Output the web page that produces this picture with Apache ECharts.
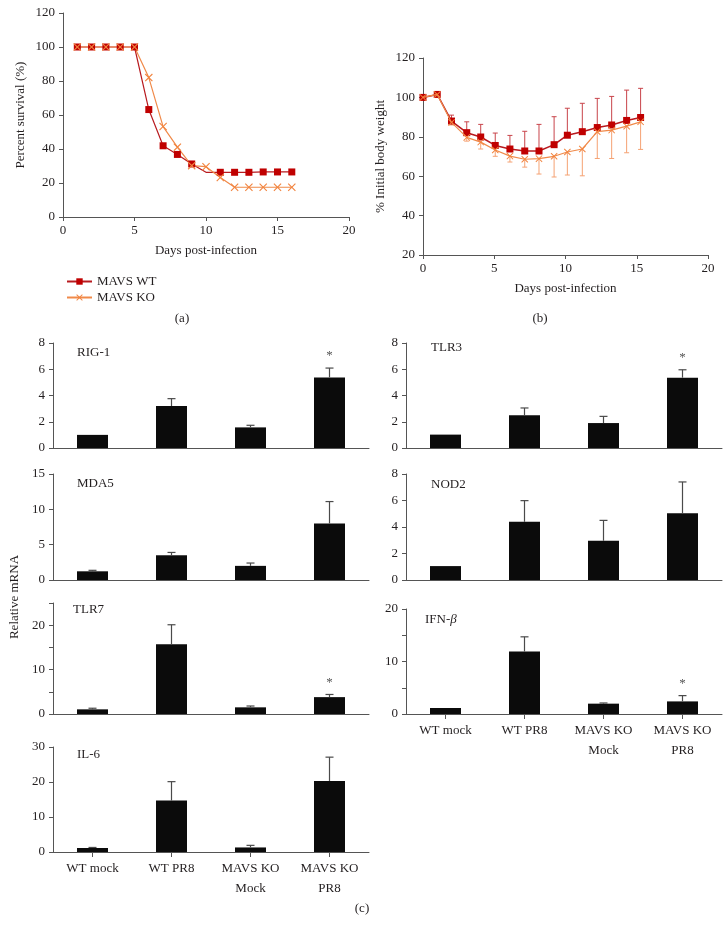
<!DOCTYPE html>
<html>
<head>
<meta charset="utf-8">
<script src="https://cdn.jsdelivr.net/npm/echarts@6/dist/echarts.min.js"></script>
<style>
html,body{margin:0;padding:0;background:#fff;}
#chart{width:727px;height:942px;}
</style>
</head>
<body>
<div id="chart"></div>
<script>
// ---------- DATA ----------
// Panel (a): survival
const survDays = [1,2,3,4,5,6,7,8,9,10,11,12,13,14,15,16];
const wtSurv = [100,100,100,100,100,63.2,41.9,36.8,31.2,26.3,26.3,26.3,26.3,26.5,26.5,26.5];
const koSurv = [100,100,100,100,100,82,53.2,41.1,30.2,29.6,23.2,17.5,17.5,17.5,17.5,17.5];
const wtHiddenMarker = [10]; // day without a visible WT marker

// Panel (b): body weight
const bwDays = [0,1,2,3.07,4.05,5.07,6.1,7.14,8.14,9.2,10.13,11.18,12.23,13.24,14.29,15.27];
const wtBW = [100,101.5,88,82.1,79.9,75.6,73.8,72.8,72.8,76.0,80.8,82.6,84.7,86.0,88.3,89.8];
const wtBWErr = [0,1.5,3.0,5.5,6.4,6.3,6.9,10.0,13.5,14.2,13.7,14.4,14.8,14.5,15.4,14.8];
const koBW = [100,101.5,87.3,79.7,77.3,73.3,70.2,68.6,68.9,70.1,72.3,73.8,82.6,83.4,85.4,87.6];
const koBWErr = [0,1.0,1.3,1.9,3.5,3.2,3.0,4.0,7.8,10.5,11.7,13.6,13.6,14.4,13.5,14.0];

// Panel (c): relative mRNA
const groups = ['WT mock','WT PR8','MAVS KO\nMock','MAVS KO\nPR8'];
const rig1 = [1.0,3.2,1.57,5.38],   rig1Err = [0,0.56,0.16,0.71],  rig1Sig = [0,0,0,1];
const mda5 = [1.23,3.5,2.0,8.0],    mda5Err = [0.14,0.4,0.4,3.1],  mda5Sig = [0,0,0,0];
const tlr7 = [1.05,15.7,1.5,3.8],   tlr7Err = [0.25,4.4,0.3,0.6],  tlr7Sig = [0,0,0,1];
const il6  = [1.14,14.7,1.3,20.3],  il6Err  = [0.16,5.4,0.6,6.8],  il6Sig  = [0,0,0,0];
const tlr3 = [1.02,2.49,1.9,5.36],  tlr3Err = [0,0.56,0.51,0.6],   tlr3Sig = [0,0,0,1];
const nod2 = [1.05,4.39,2.96,5.03], nod2Err = [0,1.6,1.54,2.37],   nod2Sig = [0,0,0,0];
const ifnb = [1.14,11.9,1.97,2.4],  ifnbErr = [0,2.8,0.13,1.1],    ifnbSig = [0,0,0,1];

// ---------- STYLE ----------
const FONT = 'Liberation Serif';
const TXT = '#231f20';
const AX = '#555';
const WT_C = '#c00000', WT_L = '#b81a1f', WT_E = '#c8444a';
const KO_C = '#f2843f', KO_L = '#f08a4a', KO_E = '#f5a273';
const XPATH = 'path://M0,1L1,0L5,4L9,0L10,1L6,5L10,9L9,10L5,6L1,10L0,9L4,5Z';

const chart = echarts.init(document.getElementById('chart'), null, {renderer:'canvas'});

const grids = [
  {left:63, top:13, width:286, height:204},   // a
  {left:423, top:58, width:285, height:197},  // b
  {left:53, top:343, width:316, height:105},  // RIG-1
  {left:53, top:474, width:316, height:106},  // MDA5
  {left:53, top:603, width:316, height:111},  // TLR7
  {left:53, top:747, width:316, height:105},  // IL-6
  {left:406, top:343, width:316, height:105}, // TLR3
  {left:406, top:474, width:316, height:106}, // NOD2
  {left:406, top:609, width:316, height:105}  // IFN-b
];

const axLine = {show:true, lineStyle:{color:AX, width:1}};
const axTick = {show:true, inside:false, length:4, lineStyle:{color:AX}};
const lab = {fontFamily:FONT, fontSize:13, color:TXT};

const xAxes = [
  {gridIndex:0, type:'value', min:0, max:20, interval:5, axisLine:axLine, axisTick:axTick, splitLine:{show:false},
   axisLabel:Object.assign({margin:7}, lab),
   name:'Days post-infection', nameLocation:'middle', nameGap:27, nameTextStyle:lab},
  {gridIndex:1, type:'value', min:0, max:20, interval:5, axisLine:axLine, axisTick:axTick, splitLine:{show:false},
   axisLabel:Object.assign({margin:7}, lab),
   name:'Days post-infection', nameLocation:'middle', nameGap:27, nameTextStyle:lab}
];
const yAxes = [
  {gridIndex:0, type:'value', min:0, max:120, interval:20, axisLine:axLine, axisTick:axTick, splitLine:{show:false},
   axisLabel:Object.assign({margin:8}, lab),
   name:'Percent survival (%)', nameLocation:'middle', nameGap:36, nameTextStyle:lab},
  {gridIndex:1, type:'value', min:20, max:120, interval:20, axisLine:axLine, axisTick:axTick, splitLine:{show:false},
   axisLabel:Object.assign({margin:8}, lab),
   name:'% Initial body weight', nameLocation:'middle', nameGap:36, nameTextStyle:lab}
];

const panels = [
  {g:2, vals:rig1, err:rig1Err, sig:rig1Sig, max:8, interval:2, every:1, bottom:false},
  {g:3, vals:mda5, err:mda5Err, sig:mda5Sig, max:15, interval:5, every:1, bottom:false},
  {g:4, vals:tlr7, err:tlr7Err, sig:tlr7Sig, max:25, interval:5, every:2, bottom:false},
  {g:5, vals:il6,  err:il6Err,  sig:il6Sig,  max:30, interval:10, every:1, bottom:true},
  {g:6, vals:tlr3, err:tlr3Err, sig:tlr3Sig, max:8, interval:2, every:1, bottom:false},
  {g:7, vals:nod2, err:nod2Err, sig:nod2Sig, max:8, interval:2, every:1, bottom:false},
  {g:8, vals:ifnb, err:ifnbErr, sig:ifnbSig, max:20, interval:5, every:2, bottom:true}
];

panels.forEach(p => {
  xAxes.push({gridIndex:p.g, type:'category', data:groups, boundaryGap:true,
    axisLine:{show:true, lineStyle:{color:AX, width:1}},
    axisTick:{show:p.bottom, alignWithLabel:true, length:5, lineStyle:{color:AX}},
    axisLabel:Object.assign({show:p.bottom, margin:7, lineHeight:20, interval:0}, lab),
    splitLine:{show:false}});
  const step = p.interval * p.every;
  yAxes.push({gridIndex:p.g, type:'value', min:0, max:p.max, interval:p.interval,
    axisLine:axLine, axisTick:axTick, splitLine:{show:false},
    axisLabel:Object.assign({margin:8, formatter: v => (Math.round(v) % step === 0 ? String(v) : '')}, lab)});
});

function xyErr(dir, color, cap) {
  return function(params, api) {
    const x = api.value(0), v = api.value(1), e = api.value(2);
    if (!e) return null;
    const p0 = api.coord([x, v]), p1 = api.coord([x, v + dir * e]);
    return {type:'group', children:[
      {type:'line', shape:{x1:p0[0], y1:p0[1], x2:p1[0], y2:p1[1]}, style:{stroke:color, lineWidth:1}},
      {type:'line', shape:{x1:p1[0]-cap, y1:p1[1], x2:p1[0]+cap, y2:p1[1]}, style:{stroke:color, lineWidth:1}}
    ]};
  };
}

function barErr(params, api) {
  const i = api.value(0), v = api.value(1), e = api.value(2), s = api.value(3);
  const p0 = api.coord([i, v]), p1 = api.coord([i, v + e]);
  const ch = [];
  if (e > 0) {
    ch.push({type:'line', shape:{x1:p0[0], y1:p0[1], x2:p1[0], y2:p1[1]}, style:{stroke:'#4a4a4a', lineWidth:1.2}});
    ch.push({type:'line', shape:{x1:p1[0]-4, y1:p1[1], x2:p1[0]+4, y2:p1[1]}, style:{stroke:'#4a4a4a', lineWidth:1.2}});
  }
  if (s) {
    ch.push({type:'text', x:p1[0], y:p1[1]-12, style:{text:'*', fontFamily:FONT, fontSize:13, fill:'#555', align:'center', verticalAlign:'middle'}});
  }
  return {type:'group', children:ch};
}

const series = [
  {type:'line', name:'MAVS WT', xAxisIndex:0, yAxisIndex:0,
   data: survDays.map((d,i)=> wtHiddenMarker.indexOf(d) >= 0 ? {value:[d, wtSurv[i]], symbol:'none'} : [d, wtSurv[i]]),
   symbol:'rect', symbolSize:7,
   lineStyle:{color:WT_L, width:1.2}, itemStyle:{color:WT_C, borderWidth:0}},
  {type:'line', name:'MAVS KO', xAxisIndex:0, yAxisIndex:0,
   data: survDays.map((d,i)=>[d, koSurv[i]]),
   symbol:XPATH, symbolSize:8,
   lineStyle:{color:KO_L, width:1.2}, itemStyle:{color:KO_C, borderWidth:0}},
  {type:'custom', name:'wtErr', xAxisIndex:1, yAxisIndex:1, renderItem:xyErr(1, WT_E, 2.5),
   data: bwDays.map((d,i)=>[d, wtBW[i], wtBWErr[i]]), encode:{x:0, y:1}, z:1},
  {type:'custom', name:'koErr', xAxisIndex:1, yAxisIndex:1, renderItem:xyErr(-1, KO_E, 2.5),
   data: bwDays.map((d,i)=>[d, koBW[i], koBWErr[i]]), encode:{x:0, y:1}, z:1},
  {type:'line', name:'WT bw', xAxisIndex:1, yAxisIndex:1,
   data: bwDays.map((d,i)=>[d, wtBW[i]]), symbol:'rect', symbolSize:7,
   lineStyle:{color:WT_L, width:1.5}, itemStyle:{color:WT_C, borderWidth:0}, z:3},
  {type:'line', name:'KO bw', xAxisIndex:1, yAxisIndex:1,
   data: bwDays.map((d,i)=>[d, koBW[i]]), symbol:XPATH, symbolSize:7,
   lineStyle:{color:KO_L, width:1.2}, itemStyle:{color:KO_C, borderWidth:0}, z:4}
];

panels.forEach((p, k) => {
  const ax = 2 + k;
  series.push({type:'bar', xAxisIndex:ax, yAxisIndex:ax, data:p.vals, barWidth:31,
    itemStyle:{color:'#0b0b0b'}, z:2});
  series.push({type:'custom', xAxisIndex:ax, yAxisIndex:ax, renderItem:barErr,
    data: p.vals.map((v,i)=>[i, v, p.err[i], p.sig[i]]), encode:{x:0, y:1}, z:3});
});

function txt(x, y, text, extra) {
  return Object.assign({type:'text', x:x, y:y, silent:true,
    style:{text:text, fontFamily:FONT, fontSize:13, fill:TXT, align:'left', verticalAlign:'middle'}}, extra || {});
}

const graphics = [
  txt(77, 353, 'RIG-1'),
  txt(77, 484, 'MDA5'),
  txt(73, 610, 'TLR7'),
  txt(77, 755, 'IL-6'),
  txt(431, 348, 'TLR3'),
  txt(431, 485, 'NOD2'),
  {type:'text', x:425, y:620, silent:true,
   style:{text:'IFN-{i|β}', fontFamily:FONT, fontSize:13, fill:TXT, align:'left', verticalAlign:'middle',
     rich:{i:{fontFamily:FONT, fontSize:13, fontStyle:'italic', fill:TXT}}}},
  txt(15, 597, 'Relative mRNA', {rotation:Math.PI/2, style:{text:'Relative mRNA', fontFamily:FONT, fontSize:13, fill:TXT, align:'center', verticalAlign:'middle'}}),
  txt(182, 319, '(a)', {style:{text:'(a)', fontFamily:FONT, fontSize:13, fill:TXT, align:'center', verticalAlign:'middle'}}),
  txt(540, 319, '(b)', {style:{text:'(b)', fontFamily:FONT, fontSize:13, fill:TXT, align:'center', verticalAlign:'middle'}}),
  txt(362, 909, '(c)', {style:{text:'(c)', fontFamily:FONT, fontSize:13, fill:TXT, align:'center', verticalAlign:'middle'}})
];

chart.setOption({
  animation:false,
  backgroundColor:'#ffffff',
  textStyle:{fontFamily:FONT},
  grid:grids,
  xAxis:xAxes,
  yAxis:yAxes,
  legend:{data:['MAVS WT','MAVS KO'], orient:'vertical', left:61, top:270, itemWidth:25, itemHeight:8, itemGap:3,
    textStyle:{fontFamily:FONT, fontSize:13, color:TXT}},
  series:series,
  graphic:graphics
});
</script>
</body>
</html>
